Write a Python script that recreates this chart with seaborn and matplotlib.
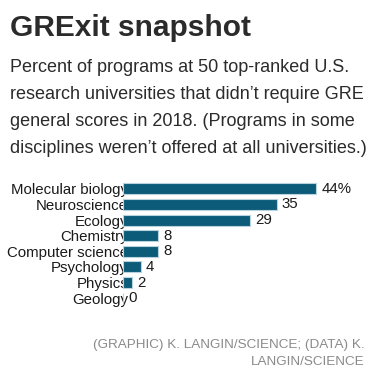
import matplotlib
matplotlib.use("Agg")
import matplotlib.pyplot as plt
import seaborn as sns
import pandas as pd

categories = ["Molecular biology", "Neuroscience", "Ecology", "Chemistry",
              "Computer science", "Psychology", "Physics", "Geology"]
values = [44, 35, 29, 8, 8, 4, 2, 0]
value_labels = ["44%", "35", "29", "8", "8", "4", "2", "0"]

title = "GRExit snapshot"
subtitle_lines = ["Percent of programs at 50 top-ranked U.S.",
                  "research universities that didn\u2019t require GRE",
                  "general scores in 2018. (Programs in some",
                  "disciplines weren\u2019t offered at all universities.)"]
source_lines = ["(GRAPHIC) K. LANGIN/SCIENCE; (DATA) K.",
                "LANGIN/SCIENCE"]

sns.set_style("white")
plt.rcParams['font.family'] = ['Liberation Sans', 'DejaVu Sans']

W, H = 383, 375
fig = plt.figure(figsize=(W / 100, H / 100), dpi=100)

# bar area, placed in pixel terms
left, top, bottom = 123, 181, 306
ax = fig.add_axes([left / W, 1 - bottom / H, (W - left) / W, (bottom - top) / H])

df = pd.DataFrame({'discipline': categories, 'pct': values})
sns.barplot(data=df, x='pct', y='discipline', orient='h', color='#0c5b79',
            saturation=1, width=0.7, edgecolor='#b8d2de', linewidth=0.8, ax=ax)

ax.set_xlim(0, 59.2)
ax.set_ylim(len(categories) - 0.5, -0.5)
ax.set_xlabel('')
ax.set_ylabel('')
ax.set_xticks([])
ax.tick_params(axis='y', length=0, pad=-3.6, labelsize=10.8, labelcolor='#1a1a1a')
for s in ax.spines.values():
    s.set_visible(False)

ax.bar_label(ax.containers[0], labels=value_labels, padding=3.6,
             fontsize=10.8, color='#1a1a1a')

fig.text(10 / W, 1 - 36 / H, title, fontsize=21.5, fontweight='bold',
         color='#2b2b2b', va='baseline', ha='left')
for i, line in enumerate(subtitle_lines):
    fig.text(10 / W, 1 - (72 + 27 * i) / H, line, fontsize=13,
             color='#2b2b2b', va='baseline', ha='left')
for i, line in enumerate(source_lines):
    fig.text(365 / W, 1 - (348 + 17 * i) / H, line, fontsize=9.7,
             color='#8a8a8a', va='baseline', ha='right')

plt.savefig('out.png', dpi=100)
